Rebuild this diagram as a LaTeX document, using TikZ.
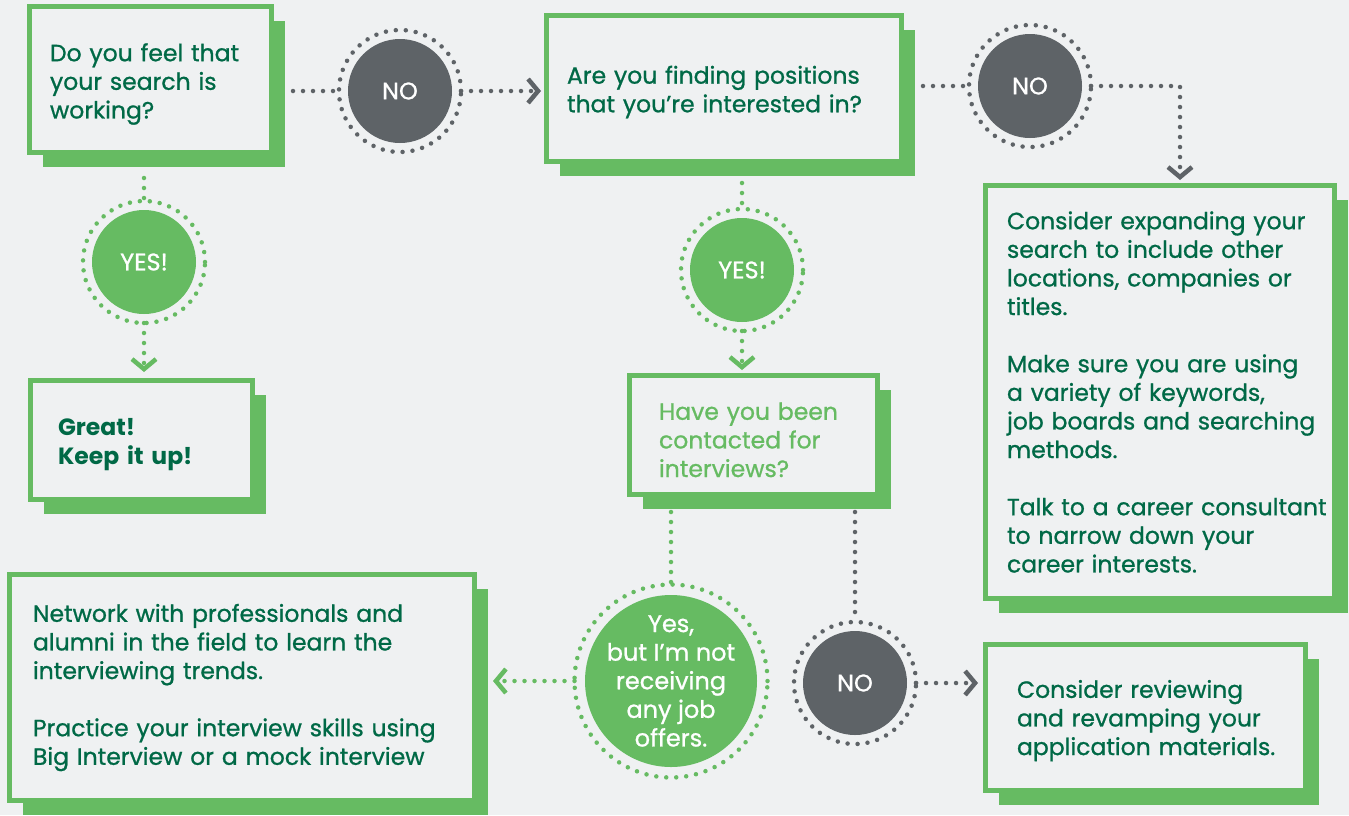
\documentclass[tikz,border=0pt]{standalone}
\usepackage{fontspec}
\setmainfont{Poppins}[UprightFeatures={FakeBold=0.9}]
\usetikzlibrary{arrows.meta,shadows}

\definecolor{bg}{RGB}{239,241,242}
\definecolor{leafgreen}{RGB}{102,187,98}
\definecolor{pinegreen}{RGB}{0,105,70}
\definecolor{slate}{RGB}{94,99,103}

\newcommand{\cardfont}{\fontsize{23.5}{28.6}\selectfont}
\newcommand{\ringfont}{\fontsize{24}{28.6}\selectfont}

\tikzset{
  chev/.tip={Straight Barb[length=10pt,width=24pt,line width=4.5pt]},
  dotline/.style={line width=4.5pt, line cap=round, dash pattern=on 0pt off 10pt},
  greendot/.style={dotline, draw=leafgreen},
  graydot/.style={dotline, draw=slate},
  card/.style={draw=leafgreen, line width=5pt, fill=bg, align=left,
    inner xsep=6pt, inner ysep=0pt, text=pinegreen, font=\cardfont,
    drop shadow={shadow xshift=13pt, shadow yshift=-14pt, fill=leafgreen, opacity=1}},
  % width, height, left padding, height of the first line
  cardsize/.style n args={4}{minimum width=#1, minimum height=#2,
    text width=#1-12pt,
    execute at begin node={\leftskip=\dimexpr#3pt-6pt\relax\rule{0pt}{#4pt}}},
  ring/.style n args={3}{circle, minimum size=#2, inner sep=0pt, outer sep=0pt,
    dotline, draw=#1, text=white, font=\ringfont, align=center,
    path picture={\fill[#1] (path picture bounding box.center) circle (#3);}},
}

\begin{document}
\begin{tikzpicture}[x=1pt, y=-1pt]
  \useasboundingbox (0,0) rectangle (1349,815);
  \fill[bg] (0,0) rectangle (1349,815);

  % questions and answers
  \node[card, cardsize={242}{146}{20.5}{27}] (q1) at (150.5,79.5)
    {Do you feel that\\your search is\\working?};
  \node[card, cardsize={355}{146}{20.5}{25}] (q2) at (724,88.5)
    {Are you finding positions\\that you’re interested in?};
  \node[card, cardsize={349}{413}{21.5}{17}] (a3) at (1160,392)
    {Consider expanding your\\search to include other\\locations, companies or\\titles.\\[28.6pt]
     Make sure you are using\\a variety of keywords,\\job boards and searching\\methods.\\[28.6pt]
     Talk to a career consultant\\to narrow down your\\career interests.};
  \node[card, cardsize={222}{119}{27.5}{26}, font=\cardfont\bfseries] (a4) at (141.5,440)
    {Great!\\Keep it up!};
  \node[card, cardsize={248}{119}{29.5}{27}, text=leafgreen] (q3) at (753.5,435)
    {Have you been\\contacted for\\interviews?};
  \node[card, cardsize={465}{226}{23.5}{18}] (a6) at (242,687.5)
    {Network with professionals and\\alumni in the field to learn the\\interviewing trends.\\[28.6pt]
     Practice your interview skills using\\Big Interview or a mock interview};
  \node[card, cardsize={320}{146}{31.5}{24}] (a7) at (1145.5,717.5)
    {Consider reviewing\\and revamping your\\application materials.};

  % yes / no circles
  \node[ring={slate}{122}{52pt}] (no1) at (400,91) {NO};
  \node[ring={slate}{122}{52pt}] (no2) at (1030,86) {NO};
  \node[ring={leafgreen}{122}{52pt}] (yes1) at (144,262) {YES!};
  \node[ring={leafgreen}{122}{52pt}] (yes2) at (742,270) {YES!};
  \node[ring={leafgreen}{193}{86pt}] (big) at (671,681)
    {Yes,\\but I’m not\\receiving\\any job\\offers.};
  \node[ring={slate}{122}{52pt}] (no3) at (855,683) {NO};

  % connectors
  \draw[graydot, shorten <=19pt] (q1.east |- no1) -- (no1);
  \draw[graydot, -{chev}, shorten >=3pt] (no1) -- (no1 -| q2.west);
  \draw[graydot, shorten <=19pt] (q2.east |- no2) -- (no2);
  \draw[graydot, -{chev}, shorten >=3pt] (no2) -| ([xshift=20pt]a3.north);
  \draw[greendot, shorten <=23pt] (q1.south -| yes1) -- (yes1);
  \draw[greendot, -{chev}, shorten >=6pt] (yes1) -- (yes1 |- a4.north);
  \draw[greendot, shorten <=19pt] (q2.south -| yes2) -- (yes2);
  \draw[greendot, -{chev}, shorten >=3pt] (yes2) -- (yes2 |- q3.north);
  \draw[greendot, shorten <=15pt] (q3.south -| big) -- (big);
  \draw[graydot, shorten <=15pt] (q3.south -| no3) -- (no3);
  \draw[greendot, -{chev}, shorten >=16pt] (big) -- (big -| a6.east);
  \draw[graydot, -{chev}, shorten >=5pt] (no3) -- (no3 -| a7.west);
\end{tikzpicture}
\end{document}
